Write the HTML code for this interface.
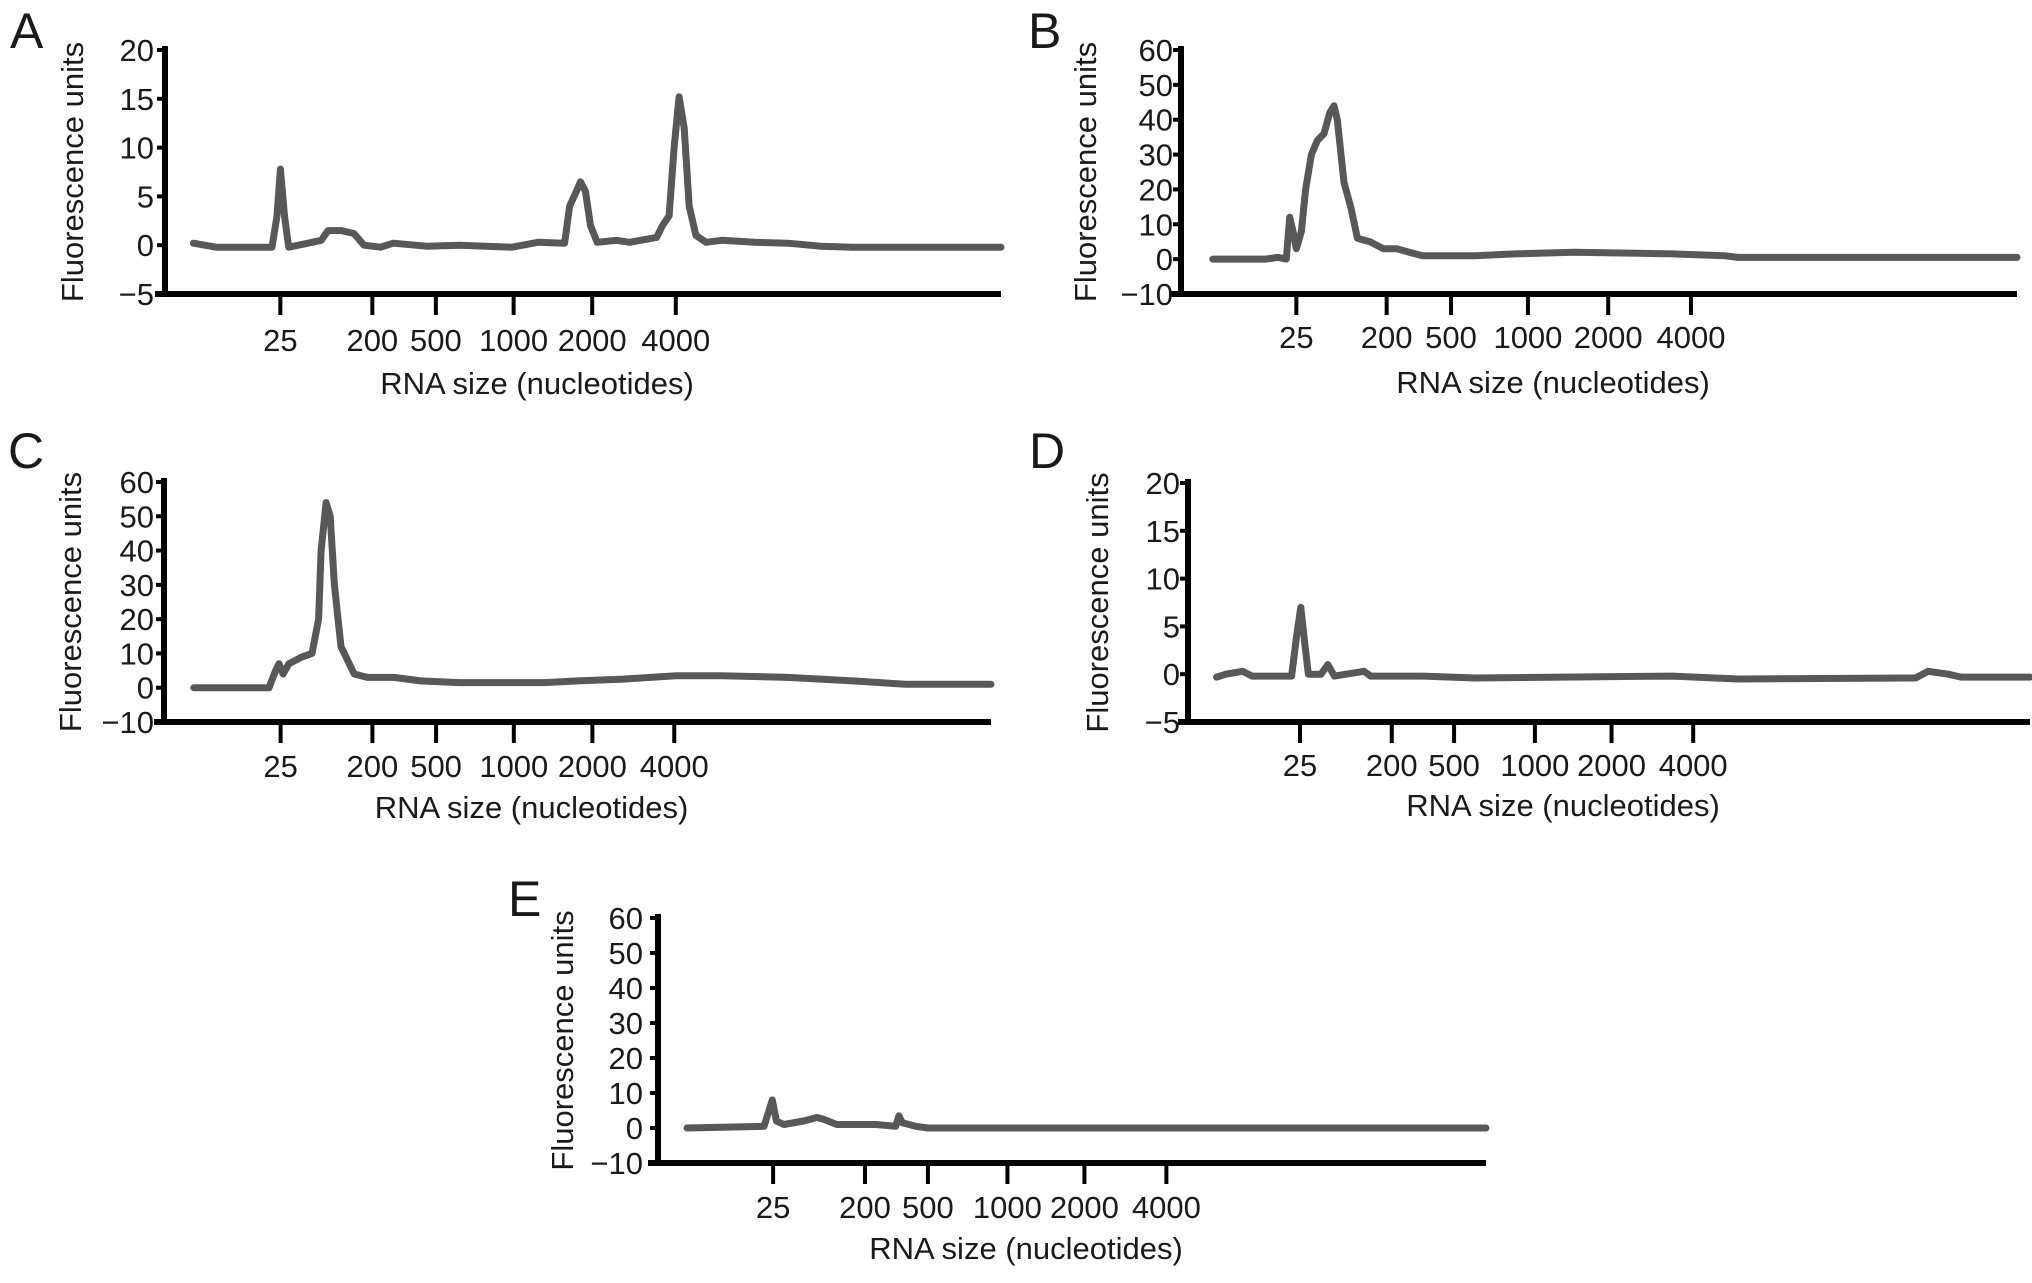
<!DOCTYPE html>
<html><head><meta charset="utf-8"><title>RNA electropherograms</title>
<style>
html,body{margin:0;padding:0;background:#fff;}
svg{display:block;}
text{font-family:"Liberation Sans",Arial,sans-serif;fill:#1a1a1a;}
</style></head>
<body>
<svg id="fig" width="2032" height="1283" viewBox="0 0 2032 1283" xmlns="http://www.w3.org/2000/svg"></svg>
<script>
// shared size ladder labels
const sizeTickLabels = ["25","200","500","1000","2000","4000"];

// Panel A
const aTickPos = [13.8,24.8,32.4,41.7,51.1,61.1];
const aYTicks = [-5,0,5,10,15,20];
const aU = [3.4,6.1,12.8,13.4,13.8,14.3,14.8,17.1,18.7,19.5,21.1,22.6,23.8,25.8,27.3,31.3,35.2,41.5,44.6,47.8,48.4,49.2,49.7,50.3,50.9,51.7,54.0,55.6,58.8,59.5,60.3,60.9,61.5,62.1,62.7,63.5,64.7,66.6,70.5,74.5,78.4,82.3,90.2,100];
const aFU = [0.2,-0.2,-0.2,3,7.8,3,-0.2,0.2,0.5,1.5,1.5,1.2,0,-0.2,0.2,-0.1,0,-0.2,0.3,0.2,4,5.5,6.5,5.5,2,0.3,0.5,0.3,0.8,2,3,10,15.2,12,4,1,0.3,0.5,0.3,0.2,-0.1,-0.2,-0.2,-0.2];

// Panel B
const bTickPos = [13.8,24.6,32.3,41.5,51.1,61.0];
const bYTicks = [-10,0,10,20,30,40,50,60];
const bU = [3.8,10.1,11.6,12.6,13.0,13.4,13.8,14.4,14.9,15.6,16.3,17.1,17.8,18.3,18.7,19.5,20.3,21.1,22.6,24.2,25.8,27.3,28.9,35.2,39.9,47.0,58.8,65.0,66.6,100];
const bFU = [0,0,0.5,0,12,8,3,8,20,30,34,36,42,44,40,22,15,6,5,3,3,2,1,1,1.5,2,1.5,1,0.5,0.5];

// Panel C
const cTickPos = [14.1,25.2,32.9,42.3,51.8,61.7];
const cYTicks = [-10,0,10,20,30,40,50,60];
const cU = [3.6,12.7,13.5,13.9,14.4,15.1,16.7,17.9,18.7,19.0,19.6,20.1,20.6,21.4,22.2,23.0,24.6,27.8,31.0,35.7,46.0,50.0,55.6,61.9,67.5,75.4,83.3,89.7,100];
const cFU = [0,0,5,7,4,7,9,10,20,40,54,50,30,12,8,4,3,3,2,1.5,1.5,2,2.5,3.5,3.5,3,2,1,1];

// Panel D
const dTickPos = [13.3,24.2,31.6,41.2,50.3,60.0];
const dYTicks = [-5,0,5,10,15,20];
const dU = [3.4,4.5,6.5,7.6,12.3,12.9,13.4,13.9,14.3,15.8,16.6,17.4,20.9,21.7,27.9,34.1,57.5,65.3,86.4,87.9,90.3,91.8,100];
const dFU = [-0.3,0,0.3,-0.2,-0.2,4,7,3,0,0,1,-0.2,0.3,-0.2,-0.2,-0.4,-0.2,-0.5,-0.4,0.3,0,-0.3,-0.3];

// Panel E
const eTickPos = [13.9,25.0,32.6,42.2,51.5,61.4];
const eYTicks = [-10,0,10,20,30,40,50,60];
const eU = [3.5,12.8,13.4,13.8,14.3,15.2,17.6,19.2,20.0,21.6,26.3,28.7,29.1,29.5,31.1,32.6,100];
const eFU = [0,0.5,5,8,2,1,2,3,2.5,1,1,0.5,3.5,1.5,0.5,0,0];

const NS = "http://www.w3.org/2000/svg";
const svg = document.getElementById('fig');
function mk(tag, attrs, parent){
  const e = document.createElementNS(NS, tag);
  for (const k in attrs) e.setAttribute(k, attrs[k]);
  (parent||svg).appendChild(e);
  return e;
}

function drawPanel(id, L, tickPos, yTicks, us, vals){
  const g = mk('g', {});
  
  
  const ymin = yTicks[0], ymax = yTicks[yTicks.length-1];
  const xS = u => L.x0 + u/100*(L.x1 - L.x0);
  const yS = v => L.yTop + (ymax - v)/(ymax - ymin)*(L.yBot - L.yTop);

  const letter = mk('text', {x:L.lx, y:L.ly, 'font-size':50}, g);
  letter.textContent = id;
  
  

  const ya = mk('line', {x1:L.x0, y1:L.yTop-4, x2:L.x0, y2:L.yBot+3, stroke:'#000', 'stroke-width':6}, g);
  
  
  const xa = mk('line', {x1:L.x0-10, y1:L.yBot, x2:L.x1, y2:L.yBot, stroke:'#000', 'stroke-width':6}, g);
  
  

  yTicks.forEach(v => {
    const y = yS(v);
    const tk = mk('line', {x1:L.x0-8, y1:y, x2:L.x0, y2:y, stroke:'#000', 'stroke-width':4}, g);
    
    
    const t = mk('text', {x:L.yr, y:y+11, 'font-size':31, 'text-anchor':'end'}, g);
    t.textContent = v < 0 ? '\u2212' + Math.abs(v) : String(v);
    
    
  });

  tickPos.forEach((u, i) => {
    const x = xS(u);
    const tk = mk('line', {x1:x, y1:L.yBot, x2:x, y2:L.yBot+21, stroke:'#000', 'stroke-width':4}, g);
    
    
    const t = mk('text', {x:x, y:L.tly, 'font-size':31, 'text-anchor':'middle'}, g);
    t.textContent = sizeTickLabels[i];
    
    
  });

  const xt = mk('text', {x:(L.x0+L.x1)/2 - 46, y:L.tty, 'font-size':31, 'text-anchor':'middle'}, g);
  xt.textContent = 'RNA size (nucleotides)';
  
  

  const cy = (L.yTop + L.yBot)/2;
  const yt = mk('text', {x:0, y:0, 'font-size':31, 'text-anchor':'middle', transform:'translate(' + (L.ytx+11) + ',' + cy + ') rotate(-90)'}, g);
  yt.textContent = 'Fluorescence units';
  
  

  let d = '';
  us.forEach((u, i) => { d += (i ? 'L' : 'M') + xS(u).toFixed(1) + ' ' + yS(vals[i]).toFixed(1); });
  const p = mk('path', {d:d, fill:'none', stroke:'#585858', 'stroke-width':7, 'stroke-linejoin':'round', 'stroke-linecap':'round'}, g);
  
  
}

drawPanel('A', {x0:165,x1:1001,yTop:50,yBot:294,yr:154,ytx:72,lx:10,ly:48,tly:351,tty:394}, aTickPos, aYTicks, aU, aFU);
drawPanel('B', {x0:1181,x1:2017,yTop:50,yBot:294,yr:1173,ytx:1085,lx:1028,ly:48,tly:348,tty:393}, bTickPos, bYTicks, bU, bFU);
drawPanel('C', {x0:164,x1:991,yTop:482,yBot:722,yr:154,ytx:70,lx:8,ly:468,tly:777,tty:818}, cTickPos, cYTicks, cU, cFU);
drawPanel('D', {x0:1188,x1:2030,yTop:483,yBot:722,yr:1180,ytx:1097,lx:1029,ly:468,tly:776,tty:816}, dTickPos, dYTicks, dU, dFU);
drawPanel('E', {x0:658,x1:1486,yTop:918,yBot:1163,yr:643,ytx:562,lx:508,ly:916,tly:1218,tty:1259}, eTickPos, eYTicks, eU, eFU);
</script>
</body></html>
